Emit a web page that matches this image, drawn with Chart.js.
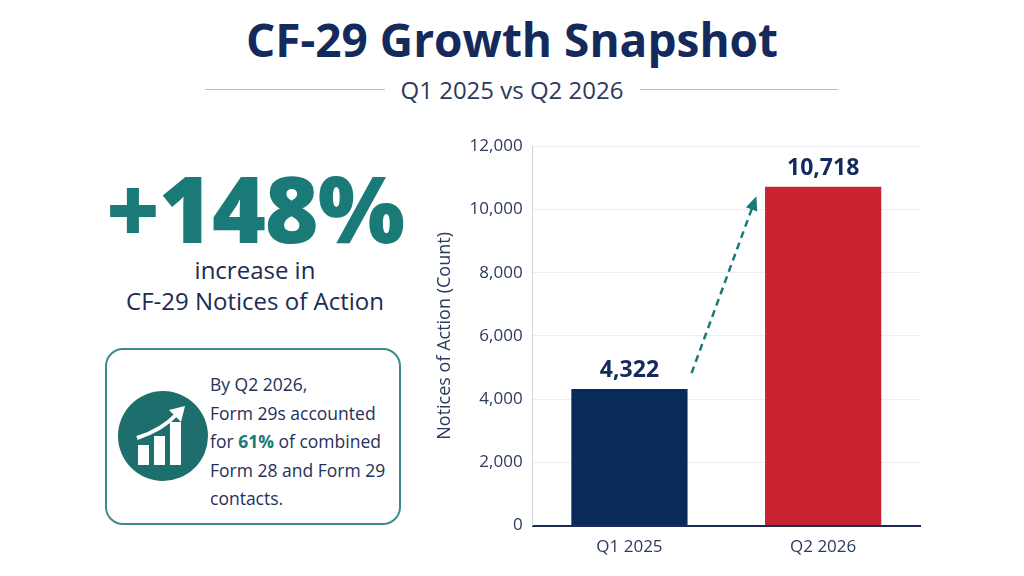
<!DOCTYPE html>
<html>
<head>
<meta charset="utf-8">
<script src="https://cdn.jsdelivr.net/npm/chart.js@4"></script>
<style>
  body { margin: 0; width: 1024px; height: 576px; background: #fff; font-family: "Open Sans", "Noto Sans", sans-serif; color: #1c2a55; position: relative; overflow: hidden; }
  h1 { position: absolute; top: 8px; left: 0; width: 1024px; margin: 0; text-align: center; font-size: 46px; font-weight: 700; color: #142a5c; }
  .sub { position: absolute; top: 73px; left: 0; width: 1024px; text-align: center; font-size: 24px; color: #2c3a5e; }
  .line { position: absolute; top: 89px; height: 1px; background: #b7bfcf; }
  .big { position: absolute; top: 145px; left: 60px; width: 390px; text-align: center; font-size: 92px; font-weight: 800; color: #1a7a78; letter-spacing: -1px; }
  .inc { position: absolute; top: 254px; left: 60px; width: 390px; text-align: center; font-size: 24px; line-height: 31px; color: #1c2a55; }
  .box { position: absolute; left: 105px; top: 348px; width: 296px; height: 177px; border: 2px solid #3e8c8a; border-radius: 18px; box-sizing: border-box; }
  .box svg { position: absolute; left: 10px; top: 40px; }
  .box p { position: absolute; left: 103px; top: 20px; margin: 0; font-size: 17.5px; line-height: 28.5px; color: #26305a; }
  .box b { color: #1a7a78; }
  #wrap { position: absolute; left: 430px; top: 126px; width: 500px; height: 434px; }
</style>
</head>
<body>
<h1>CF-29 Growth Snapshot</h1>
<div class="line" style="left:205px;width:180px"></div>
<div class="line" style="left:640px;width:198px"></div>
<div class="sub">Q1 2025 vs Q2 2026</div>
<div class="big">+148%</div>
<div class="inc">increase in<br>CF-29 Notices of Action</div>
<div class="box">
  <svg width="92" height="92" viewBox="0 0 92 92">
    <circle cx="46" cy="46" r="45" fill="#1d6f6e"/>
    <rect x="21" y="55" width="11" height="20" fill="#fff"/>
    <rect x="37" y="46" width="11" height="29" fill="#fff"/>
    <rect x="53" y="32" width="11" height="43" fill="#fff"/>
    <path d="M20 48 Q45 40 60 24" stroke="#fff" stroke-width="4" fill="none"/>
    <path d="M52 20 L68 16 L64 32 Z" fill="#fff"/>
  </svg>
  <p>By Q2 2026,<br>Form 29s accounted<br>for <b>61%</b> of combined<br>Form 28 and Form 29<br>contacts.</p>
</div>
<div id="wrap"><canvas id="chart"></canvas></div>
<script>
const categories = ['Q1 2025', 'Q2 2026'];
const counts = [4322, 10718];
const barColors = ['#0b2a5c', '#c8232f'];
const yTicks = [0, 2000, 4000, 6000, 8000, 10000, 12000];

const labelPlugin = {
  id: 'labels',
  afterDatasetsDraw(chart) {
    const ctx = chart.ctx;
    const meta = chart.getDatasetMeta(0);
    ctx.save();
    ctx.font = 'bold 23px "Open Sans", sans-serif';
    ctx.fillStyle = '#142a5c';
    ctx.textAlign = 'center';
    ctx.textBaseline = 'bottom';
    meta.data.forEach((bar, i) => {
      ctx.fillText(counts[i].toLocaleString('en-US'), bar.x, bar.y - 7);
    });
    // dashed growth arrow
    const y = chart.scales.y;
    const x0 = meta.data[0].x + meta.data[0].width / 2 + 4;
    const y0 = y.getPixelForValue(counts[0] + 500);
    const x1 = meta.data[1].x - meta.data[1].width / 2 - 10;
    const y1 = y.getPixelForValue(10000 + 300);
    ctx.strokeStyle = '#1a7a78';
    ctx.fillStyle = '#1a7a78';
    ctx.lineWidth = 2.5;
    ctx.setLineDash([7, 5]);
    ctx.beginPath();
    ctx.moveTo(x0, y0);
    ctx.lineTo(x1, y1);
    ctx.stroke();
    ctx.setLineDash([]);
    const a = Math.atan2(y1 - y0, x1 - x0);
    ctx.beginPath();
    ctx.moveTo(x1 + 4 * Math.cos(a), y1 + 4 * Math.sin(a));
    ctx.lineTo(x1 - 10 * Math.cos(a) + 6 * Math.sin(a), y1 - 10 * Math.sin(a) - 6 * Math.cos(a));
    ctx.lineTo(x1 - 10 * Math.cos(a) - 6 * Math.sin(a), y1 - 10 * Math.sin(a) + 6 * Math.cos(a));
    ctx.closePath();
    ctx.fill();
    ctx.restore();
  }
};

new Chart(document.getElementById('chart'), {
  type: 'bar',
  data: {
    labels: categories,
    datasets: [{ data: counts, backgroundColor: barColors, barPercentage: 0.6, categoryPercentage: 1 }]
  },
  options: {
    responsive: true,
    maintainAspectRatio: false,
    animation: false,
    layout: { padding: { top: 10, right: 10 } },
    plugins: { legend: { display: false }, tooltip: { enabled: false } },
    scales: {
      x: {
        grid: { display: false },
        border: { color: '#1c2a55', width: 2 },
        ticks: { color: '#2c3a5e', font: { size: 17, family: 'Open Sans' } }
      },
      y: {
        min: 0, max: 12000,
        afterBuildTicks: s => { s.ticks = yTicks.map(v => ({ value: v })); },
        grid: { color: '#eceef2', drawTicks: false },
        border: { color: '#cfd3db', width: 1 },
        ticks: { color: '#2c3a5e', padding: 10, font: { size: 17, family: 'Open Sans' }, callback: v => v.toLocaleString('en-US') },
        title: { display: true, text: 'Notices of Action (Count)', color: '#2c3a5e', font: { size: 18, family: 'Open Sans' } }
      }
    }
  },
  plugins: [labelPlugin]
});
</script>
</body>
</html>
